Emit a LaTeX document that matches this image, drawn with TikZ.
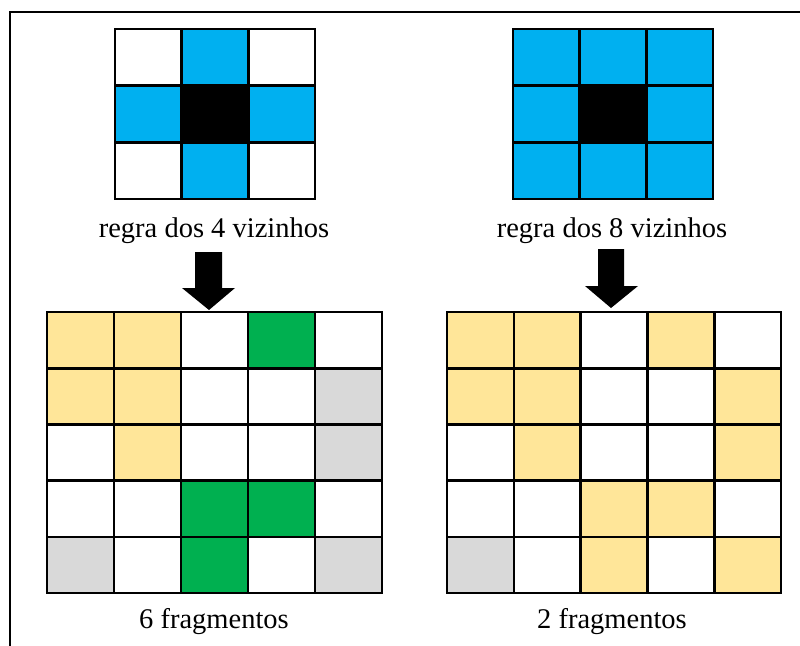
\documentclass[tikz,border=0pt]{standalone}
\usepackage{fontspec}
\setmainfont{Liberation Serif}
\usepackage{tikz}

\definecolor{cblue}{HTML}{00B0F0}
\definecolor{cyel}{HTML}{FFE699}
\definecolor{cgreen}{HTML}{00B050}
\definecolor{cgray}{HTML}{D9D9D9}

\begin{document}
\begin{tikzpicture}[x=1pt,y=-1pt,
  cell/.style={draw=black,line width=2.6pt},
  lbl/.style={anchor=base,inner sep=0pt,font=\fontsize{28.5}{30}\selectfont}]
\useasboundingbox (0,0) rectangle (800,645);
\draw [line width=2pt] (10,12) rectangle (806,652);

% top left, 4 neighbours
\begin{scope}[shift={(115,29)},x=66.7pt,y=-56.7pt]
\draw [cell,fill=white] (0,0) rectangle +(1,1); \draw [cell,fill=cblue] (1,0) rectangle +(1,1); \draw [cell,fill=white] (2,0) rectangle +(1,1);
\draw [cell,fill=cblue] (0,1) rectangle +(1,1); \draw [cell,fill=black] (1,1) rectangle +(1,1); \draw [cell,fill=cblue] (2,1) rectangle +(1,1);
\draw [cell,fill=white] (0,2) rectangle +(1,1); \draw [cell,fill=cblue] (1,2) rectangle +(1,1); \draw [cell,fill=white] (2,2) rectangle +(1,1);
\end{scope}

% top right, 8 neighbours
\begin{scope}[shift={(513,29)},x=66.7pt,y=-56.7pt]
\draw [cell,fill=cblue] (0,0) rectangle +(1,1); \draw [cell,fill=cblue] (1,0) rectangle +(1,1); \draw [cell,fill=cblue] (2,0) rectangle +(1,1);
\draw [cell,fill=cblue] (0,1) rectangle +(1,1); \draw [cell,fill=black] (1,1) rectangle +(1,1); \draw [cell,fill=cblue] (2,1) rectangle +(1,1);
\draw [cell,fill=cblue] (0,2) rectangle +(1,1); \draw [cell,fill=cblue] (1,2) rectangle +(1,1); \draw [cell,fill=cblue] (2,2) rectangle +(1,1);
\end{scope}

\node [lbl] (rule4) at (214,237) {regra dos 4 vizinhos};
\node [lbl] (rule8) at (612,237) {regra dos 8 vizinhos};

% arrows
\fill (195,252)--(222,252)--(222,288)--(235,288)--(209,310)--(182,288)--(195,288)--cycle;
\fill (598,249)--(624,249)--(624,286)--(638,286)--(611,308)--(585,286)--(598,286)--cycle;

% bottom left, 6 fragments
\begin{scope}[shift={(47,312)},x=67pt,y=-56.2pt]
\draw [cell,fill=cyel] (0,0) rectangle +(1,1); \draw [cell,fill=cyel] (1,0) rectangle +(1,1); \draw [cell,fill=white] (2,0) rectangle +(1,1); \draw [cell,fill=cgreen] (3,0) rectangle +(1,1); \draw [cell,fill=white] (4,0) rectangle +(1,1);
\draw [cell,fill=cyel] (0,1) rectangle +(1,1); \draw [cell,fill=cyel] (1,1) rectangle +(1,1); \draw [cell,fill=white] (2,1) rectangle +(1,1); \draw [cell,fill=white] (3,1) rectangle +(1,1); \draw [cell,fill=cgray] (4,1) rectangle +(1,1);
\draw [cell,fill=white] (0,2) rectangle +(1,1); \draw [cell,fill=cyel] (1,2) rectangle +(1,1); \draw [cell,fill=white] (2,2) rectangle +(1,1); \draw [cell,fill=white] (3,2) rectangle +(1,1); \draw [cell,fill=cgray] (4,2) rectangle +(1,1);
\draw [cell,fill=white] (0,3) rectangle +(1,1); \draw [cell,fill=white] (1,3) rectangle +(1,1); \draw [cell,fill=cgreen] (2,3) rectangle +(1,1); \draw [cell,fill=cgreen] (3,3) rectangle +(1,1); \draw [cell,fill=white] (4,3) rectangle +(1,1);
\draw [cell,fill=cgray] (0,4) rectangle +(1,1); \draw [cell,fill=white] (1,4) rectangle +(1,1); \draw [cell,fill=cgreen] (2,4) rectangle +(1,1); \draw [cell,fill=white] (3,4) rectangle +(1,1); \draw [cell,fill=cgray] (4,4) rectangle +(1,1);
\end{scope}

% bottom right, 2 fragments
\begin{scope}[shift={(447,312)},x=66.8pt,y=-56.2pt]
\draw [cell,fill=cyel] (0,0) rectangle +(1,1); \draw [cell,fill=cyel] (1,0) rectangle +(1,1); \draw [cell,fill=white] (2,0) rectangle +(1,1); \draw [cell,fill=cyel] (3,0) rectangle +(1,1); \draw [cell,fill=white] (4,0) rectangle +(1,1);
\draw [cell,fill=cyel] (0,1) rectangle +(1,1); \draw [cell,fill=cyel] (1,1) rectangle +(1,1); \draw [cell,fill=white] (2,1) rectangle +(1,1); \draw [cell,fill=white] (3,1) rectangle +(1,1); \draw [cell,fill=cyel] (4,1) rectangle +(1,1);
\draw [cell,fill=white] (0,2) rectangle +(1,1); \draw [cell,fill=cyel] (1,2) rectangle +(1,1); \draw [cell,fill=white] (2,2) rectangle +(1,1); \draw [cell,fill=white] (3,2) rectangle +(1,1); \draw [cell,fill=cyel] (4,2) rectangle +(1,1);
\draw [cell,fill=white] (0,3) rectangle +(1,1); \draw [cell,fill=white] (1,3) rectangle +(1,1); \draw [cell,fill=cyel] (2,3) rectangle +(1,1); \draw [cell,fill=cyel] (3,3) rectangle +(1,1); \draw [cell,fill=white] (4,3) rectangle +(1,1);
\draw [cell,fill=cgray] (0,4) rectangle +(1,1); \draw [cell,fill=white] (1,4) rectangle +(1,1); \draw [cell,fill=cyel] (2,4) rectangle +(1,1); \draw [cell,fill=white] (3,4) rectangle +(1,1); \draw [cell,fill=cyel] (4,4) rectangle +(1,1);
\end{scope}

\node [lbl] (frag6) at (214,628) {6 fragmentos};
\node [lbl] (frag2) at (612,628) {2 fragmentos};
\end{tikzpicture}
\end{document}
